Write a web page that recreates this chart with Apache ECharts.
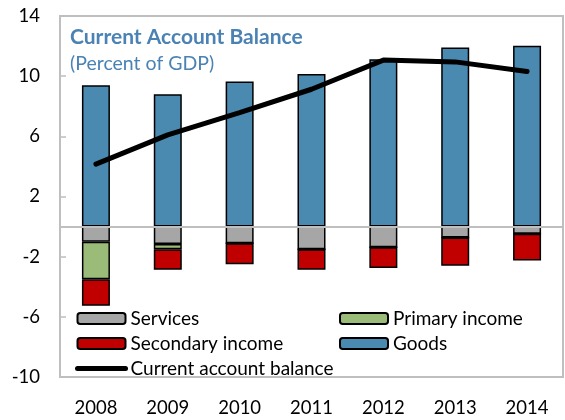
<!DOCTYPE html>
<html>
<head>
<meta charset="utf-8">
<script src="https://cdn.jsdelivr.net/npm/echarts@6/dist/echarts.min.js"></script>
<style>
  html, body { margin: 0; padding: 0; background: #fff; }
  #main { width: 565px; height: 420px; }
</style>
</head>
<body>
<div id="main"></div>
<script>
// data
var years = ['2008', '2009', '2010', '2011', '2012', '2013', '2014'];
var goods = [9.4, 8.8, 9.65, 10.15, 11.13, 11.9, 12.02];
var services = [-1.0, -1.15, -1.1, -1.5, -1.37, -0.73, -0.47];
var primaryIncome = [-2.5, -0.35, 0, 0, 0, 0, 0];
var secondaryIncome = [-1.77, -1.37, -1.4, -1.37, -1.39, -1.87, -1.78];
var currentAccount = [4.15, 6.1, 7.58, 9.13, 11.07, 10.95, 10.31];
var yTicks = { min: -10, max: 14, step: 4 };

var font = 'Lato';
var titleColor = '#4a82b4';
var frameColor = '#bfbfbf';

var myChart = echarts.init(document.getElementById('main'));

function barSeries(name, data, color) {
  return {
    name: name,
    type: 'bar',
    stack: 'total',
    barWidth: 28,
    data: data,
    itemStyle: { color: color, borderColor: '#000', borderWidth: 1.5 }
  };
}

var legendText = { fontFamily: font, fontSize: 19, color: '#000' };

var option = {
  animation: false,
  textStyle: { fontFamily: font },
  title: {
    text: 'Current Account Balance',
    subtext: '(Percent of GDP)',
    left: 65,
    top: 22,
    itemGap: 6,
    textStyle: { fontFamily: font, fontSize: 21, fontWeight: 'bold', color: titleColor },
    subtextStyle: { fontFamily: font, fontSize: 19.5, color: titleColor }
  },
  grid: {
    left: 60, right: 2, top: 16, bottom: 43,
    outerBoundsMode: 'none',
    show: true, borderColor: frameColor, borderWidth: 2
  },
  legend: [
    {
      data: [
        'Services',
        'Secondary income',
        {
          name: 'Current account balance',
          itemStyle: { opacity: 0 },
          lineStyle: { width: 5, cap: 'round' }
        }
      ],
      orient: 'vertical',
      left: 70, top: 304,
      itemWidth: 48, itemHeight: 11, itemGap: 6,
      textStyle: legendText
    },
    {
      data: ['Primary income', 'Goods'],
      orient: 'vertical',
      left: 334, top: 304,
      itemWidth: 48, itemHeight: 11, itemGap: 6,
      textStyle: legendText
    }
  ],
  xAxis: [
    {
      type: 'category',
      data: years,
      z: 5,
      axisLine: { onZero: true, lineStyle: { color: frameColor, width: 2 } },
      axisTick: { inside: true, length: 6, lineStyle: { color: frameColor, width: 1.5 } },
      axisLabel: { show: false },
      splitLine: { show: false }
    },
    {
      type: 'category',
      data: years,
      position: 'bottom',
      axisLine: { show: false, onZero: false },
      axisTick: { show: false },
      axisLabel: { margin: 22, fontFamily: font, fontSize: 18.5, color: '#000' }
    }
  ],
  yAxis: {
    type: 'value',
    min: yTicks.min,
    max: yTicks.max,
    interval: yTicks.step,
    axisLine: { show: true, lineStyle: { color: frameColor, width: 2 } },
    axisTick: { show: true, inside: true, length: 6, lineStyle: { color: frameColor, width: 1.5 } },
    axisLabel: { margin: 20, fontFamily: font, fontSize: 18.5, color: '#000' },
    splitLine: { show: false }
  },
  series: [
    barSeries('Goods', goods, '#4a89b0'),
    barSeries('Services', services, '#a6a6a6'),
    barSeries('Primary income', primaryIncome, '#9bbb78'),
    barSeries('Secondary income', secondaryIncome, '#c00000'),
    {
      name: 'Current account balance',
      type: 'line',
      data: currentAccount,
      symbol: 'none',
      z: 10,
      lineStyle: { color: '#000', width: 5, cap: 'round' },
      itemStyle: { color: '#000' }
    }
  ]
};

myChart.setOption(option);
</script>
</body>
</html>
